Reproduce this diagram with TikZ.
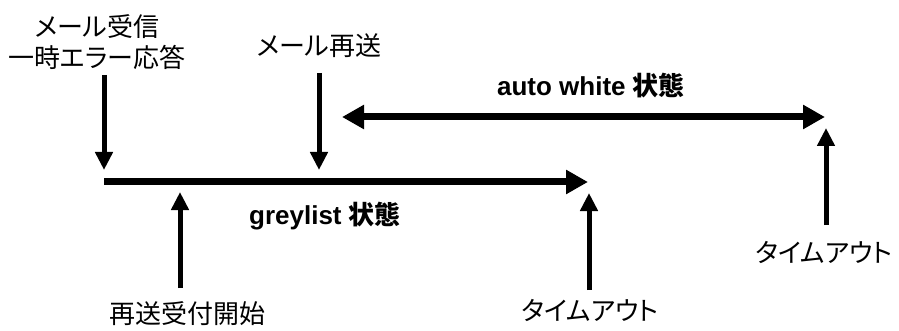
\documentclass[tikz,border=0pt]{standalone}
\usepackage{fontspec}
\setmainfont{Liberation Sans}
\newfontfamily\jp[RawFeature=+palt]{Noto Sans CJK JP}
\usetikzlibrary{arrows.meta}
\begin{document}
\begin{tikzpicture}[x=1pt,y=-1pt,
  varr/.style={line width=5pt,-{Triangle[length=18pt,width=17pt]}},
  harr/.style={line width=7pt,-{Triangle[length=22pt,width=23pt]}},
  harr2/.style={line width=7pt,{Triangle[length=22pt,width=23pt]}-{Triangle[length=22pt,width=23pt]}},
  jlabel/.style={font=\jp\fontsize{26}{31}\selectfont,inner sep=0pt,align=center},
  blabel/.style={font=\bfseries\fontsize{26}{30}\selectfont,inner sep=0pt}]
\useasboundingbox (0,0) rectangle (899,331);
% text nodes
\node[jlabel] (recv) at (97,42) {メール受信\\一時エラー応答};
\node[jlabel] (resend) at (319,46) {メール再送};
\node[blabel] (aw) at (591,86) {auto white {\jp\bfseries 状態}};
\node[blabel] (gl) at (325,216) {greylist {\jp\bfseries 状態}};
\node[jlabel] (start) at (187,314) {再送受付開始};
\node[jlabel] (to1) at (590,310) {タイムアウト};
\node[jlabel] (to2) at (824,252) {タイムアウト};
% coordinates
\coordinate (a1s) at (104,75);  \coordinate (a1e) at (104,170);
\coordinate (gs) at (104,182);  \coordinate (ge) at (588,182);
\coordinate (a2s) at (319,73);  \coordinate (a2e) at (319,170);
\coordinate (aws) at (342,117); \coordinate (awe) at (825,117);
\coordinate (r1s) at (826,225); \coordinate (r1e) at (826,128);
\coordinate (m1s) at (589,290); \coordinate (m1e) at (589,193);
\coordinate (l1s) at (180,288); \coordinate (l1e) at (180,192);
% connectors
\draw[varr] (a1s) -- (a1e);
\draw[harr] (gs) -- (ge);
\draw[varr] (a2s) -- (a2e);
\draw[harr2] (aws) -- (awe);
\draw[varr] (r1s) -- (r1e);
\draw[varr] (m1s) -- (m1e);
\draw[varr] (l1s) -- (l1e);
\end{tikzpicture}
\end{document}
